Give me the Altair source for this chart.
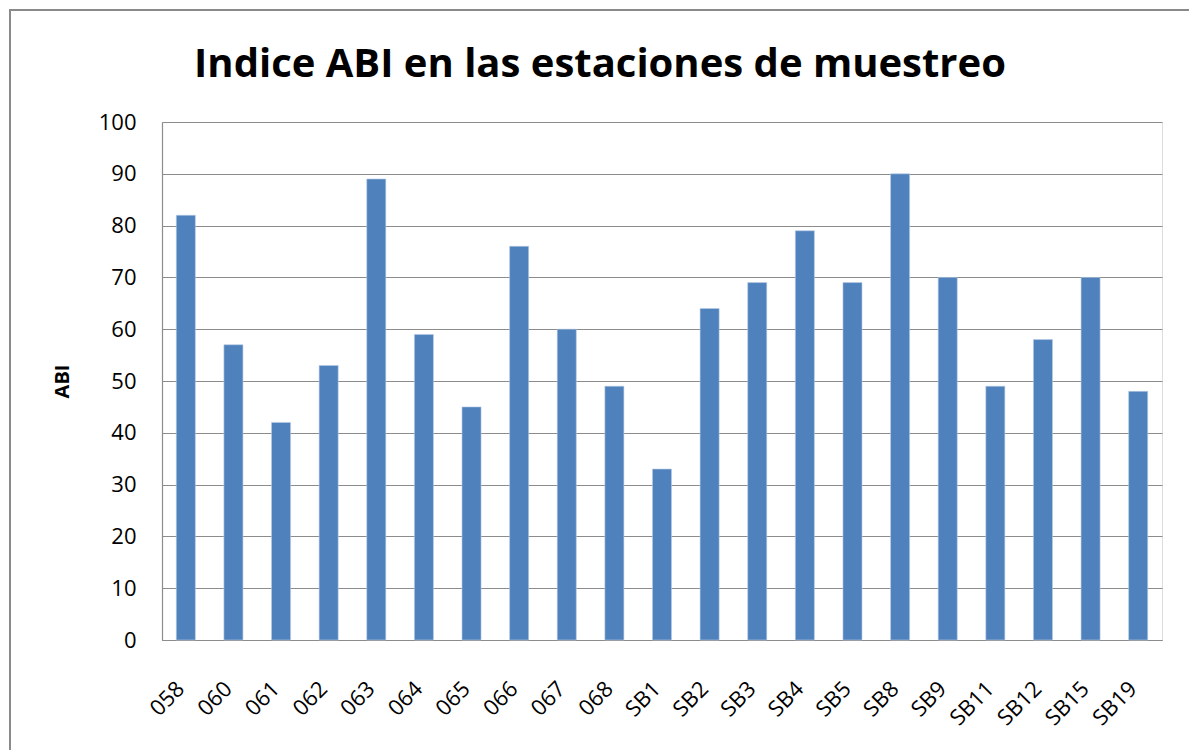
import altair as alt
import pandas as pd

stations = ["058", "060", "061", "062", "063", "064", "065", "066", "067", "068",
            "SB1", "SB2", "SB3", "SB4", "SB5", "SB8", "SB9", "SB11", "SB12", "SB15", "SB19"]
abi = [82, 57, 42, 53, 89, 59, 45, 76, 60, 49,
       33, 64, 69, 79, 69, 90, 70, 49, 58, 70, 48]
y_ticks = [0, 10, 20, 30, 40, 50, 60, 70, 80, 90, 100]
title_text = "Indice ABI en las estaciones de muestreo"

df = pd.DataFrame({"Estación": stations, "ABI": abi})

FONT = "Open Sans"
GRID = "#8c8c8c"

bars = alt.Chart(df).mark_bar(color="#4F81BD", stroke="#B9CDE5", strokeWidth=0.6).encode(
    x=alt.X("Estación:N", sort=stations,
            scale=alt.Scale(paddingInner=0.6, paddingOuter=0.3),
            axis=alt.Axis(title=None, labelAngle=315, labelAlign="right", labelBaseline="middle",
                          labelPadding=45, labelOffset=-5, ticks=False, labelFont=FONT,
                          labelFontSize=22, labelColor="#000000", domainColor=GRID,
                          domainWidth=1.2, grid=False, labelOverlap=False)),
    y=alt.Y("ABI:Q", scale=alt.Scale(domain=[0, 100], nice=False),
            axis=alt.Axis(values=y_ticks, title="ABI", titleFont=FONT, titleFontSize=20,
                          titleFontWeight="bold", titleColor="#000000",
                          titleX=-100, titleY=259, titleAlign="center", titleBaseline="middle",
                          labelFont=FONT, labelFontSize=22, labelColor="#000000",
                          labelPadding=26, ticks=False, domainColor=GRID, domainWidth=1.2,
                          gridColor=GRID, gridWidth=1.2)),
)

title = alt.Chart(pd.DataFrame({"t": [title_text]})).mark_text(
    font=FONT, fontSize=40, fontWeight="bold", color="#000000",
    align="center", baseline="alphabetic"
).encode(text="t:N", x=alt.value(438), y=alt.value(-45))

border = alt.Chart(df).mark_rect(fill=None, stroke="#8a8a8a", strokeWidth=1.5).encode(
    x=alt.value(-152), x2=alt.value(1028), y=alt.value(-112), y2=alt.value(660)
)

chart = alt.layer(bars, title, border).properties(
    width=1000, height=518,
    autosize=alt.AutoSizeParams(type="none"),
    padding={"left": 154, "top": 114, "right": 27, "bottom": 110},
).configure_view(stroke=None).configure(background="white")

chart.save("out.html", embed_options={"renderer": "svg", "actions": False})
